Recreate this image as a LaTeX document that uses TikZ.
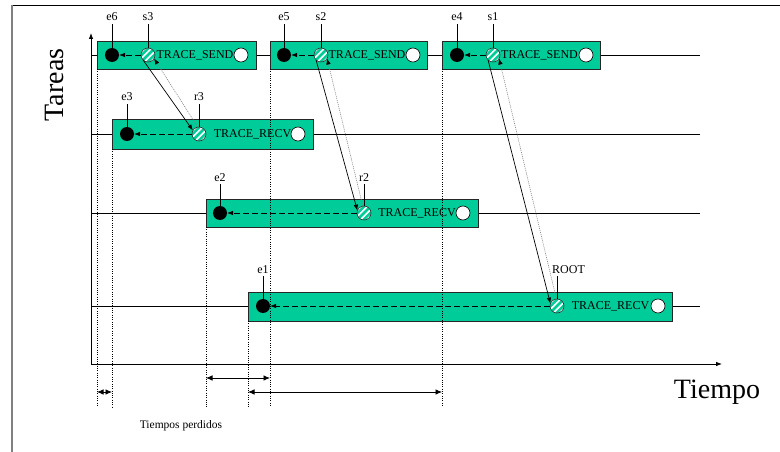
\documentclass[tikz,border=0pt]{standalone}
\usepackage{fontspec}
\setmainfont{Liberation Serif}
\usetikzlibrary{arrows.meta,shadows,calc}
\definecolor{lanegreen}{RGB}{0,204,153}
\begin{document}
\begin{tikzpicture}[x=1pt,y=-1pt,
  >={Latex[length=6pt,width=4.5pt]},
  lane/.style={draw=black!85, line width=0.7pt, fill=lanegreen, inner sep=0, outer sep=0,
    drop shadow={shadow xshift=1.2pt, shadow yshift=-1.2pt, fill=black!55, opacity=1}},
  evtdot/.style={circle, fill=black, minimum size=14pt, inner sep=0, outer sep=0},
  idledot/.style={circle, draw=black, line width=0.6pt, fill=white, minimum size=14pt, inner sep=0, outer sep=0},
  hatchdot/.style={circle, draw=black!80, line width=0.6pt, fill=white, minimum size=14pt, inner sep=0, outer sep=0,
    path picture={\foreach \k in {-2,...,2}{\draw[lanegreen, line width=2.6pt]
      ([xshift={\k*6.4pt-12pt}, yshift=-12pt]path picture bounding box.center) -- ++(24pt,24pt);}}},
  tag/.style={font=\fontsize{12}{12}\selectfont, inner sep=0, anchor=base},
  calltext/.style={font=\fontsize{12}{12}\selectfont, inner sep=0},
  rowline/.style={line width=0.8pt},
  tick/.style={line width=0.8pt},
  guide/.style={line width=0.8pt, dash pattern=on 1pt off 1.3pt},
  waitarrow/.style={->, line width=0.8pt, dash pattern=on 6pt off 3pt},
  msg/.style={->, line width=0.7pt},
  reply/.style={-{Latex[length=6pt,width=4.5pt,black]}, gray, line width=0.6pt, dash pattern=on 1pt off 1pt},
  span/.style={{Latex[length=6.5pt,width=5.5pt]}-{Latex[length=6.5pt,width=5.5pt]}, line width=0.8pt}
]
\useasboundingbox (0,0) rectangle (780,452);

% frame edges
\draw[line width=0.9pt] (12,5) -- (780,5);
\draw[gray, line width=1.5pt] (12,5) -- (12,452);

% axes
\coordinate (O) at (91,364);
\coordinate (ytop) at (91,33);
\coordinate (xend) at (722,364);
\draw[->, line width=0.8pt] (O) -- (ytop);
\draw[->, line width=0.8pt] (O) -- (xend);
\node[font=\fontsize{28}{28}\selectfont, rotate=90, anchor=base, inner sep=0] (tareas) at (63,85) {Tareas};
\node[font=\fontsize{28}{28}\selectfont, anchor=base, inner sep=0] (tiempo) at (717,398) {Tiempo};

% task lines
\foreach \r/\y in {1/55, 2/134, 3/213, 4/306}{
  \coordinate (la\r) at (91,\y);
  \coordinate (lb\r) at (700,\y);
  \draw[rowline] (la\r) -- (lb\r);
}

% execution boxes
\node[lane, minimum width=159pt, minimum height=28pt] (bA) at (176.5,55) {};
\node[lane, minimum width=157pt, minimum height=28pt] (bB) at (348.5,55) {};
\node[lane, minimum width=158pt, minimum height=28pt] (bC) at (521,55) {};
\node[lane, minimum width=201pt, minimum height=30pt] (b2) at (212.5,134) {};
\node[lane, minimum width=272pt, minimum height=28pt] (b3) at (342,213) {};
\node[lane, minimum width=424pt, minimum height=29pt] (b4) at (460,306.5) {};

% call names
\node[calltext] (tA) at (195,55) {TRACE\_SEND};
\node[calltext] (tB) at (367,55) {TRACE\_SEND};
\node[calltext] (tC) at (539.5,55) {TRACE\_SEND};
\node[calltext] (t2) at (252.5,134) {TRACE\_RECV};
\node[calltext] (t3) at (417,213) {TRACE\_RECV};
\node[calltext] (t4) at (610.5,306) {TRACE\_RECV};

% time guides
\coordinate (gend) at (0,407);
\coordinate (dimA) at (0,378);
\coordinate (dimB) at (0,392);
\foreach \b in {bA,b2,b3,b4,bB,bC}{
  \draw[guide] (\b.south west) -- (\b.south west |- gend);
}

% events
\node[evtdot] (e6) at (112,55) {};
\node[hatchdot] (s3) at (148,55) {};
\node[idledot] (w1) at (241,55) {};
\node[evtdot] (e5) at (284,55) {};
\node[hatchdot] (s2) at (321,55) {};
\node[idledot] (w2) at (413,55) {};
\node[evtdot] (e4) at (457,55) {};
\node[hatchdot] (s1) at (493,55) {};
\node[idledot] (w3) at (586,55) {};
\node[evtdot] (e3) at (127,134) {};
\node[hatchdot] (r3) at (199,134) {};
\node[idledot] (w4) at (298,134) {};
\node[evtdot] (e2) at (220,213) {};
\node[hatchdot] (r2) at (364,213) {};
\node[idledot] (w5) at (463,213) {};
\node[evtdot] (e1) at (263,306) {};
\node[hatchdot] (root) at (557,306) {};
\node[idledot] (w6) at (658,306) {};

% event names and ticks
\foreach \n/\t/\x/\y in {e6/e6/112/21, s3/s3/148/21, e5/e5/284/21, s2/s2/321/21,
                         e4/e4/457/21, s1/s1/493/21, e3/e3/127/101, r3/r3/199/101,
                         e2/e2/220/181, r2/r2/364/181, e1/e1/263/273}{
  \node[tag] (l\n) at (\x,\y) {\t};
  \draw[tick] (l\n.south) ++(0,3) -- (\n.north);
}
\node[tag, anchor=base west] (lroot) at (552,273) {ROOT};
\draw[tick] (lroot.south -| root) ++(0,3) -- (root.north);

% waiting inside each call
\draw[waitarrow] (s3) -- (e6);
\draw[waitarrow] (s2) -- (e5);
\draw[waitarrow] (s1) -- (e4);
\draw[waitarrow] (r3) -- (e3);
\draw[waitarrow] (r2) -- (e2);
\draw[waitarrow] (root) -- (e1);

% messages and acknowledgements
\draw[msg] (s3.225) -- (r3.150);
\draw[reply] (r3.100) -- (s3.-30);
\draw[msg] (s2.225) -- (r2.160);
\draw[reply] (r2.100) -- (s2.-30);
\draw[msg] (s1.225) -- (root.160);
\draw[reply] (root.95) -- (s1.-30);

% lost time intervals
\draw[span] (bA.south west |- dimB) -- (b2.south west |- dimB);
\draw[span] (b3.south west |- dimA) -- (bB.south west |- dimA);
\draw[span] (b4.south west |- dimB) -- (bC.south west |- dimB);
\node[font=\fontsize{11.5}{11.5}\selectfont, inner sep=0] (lost) at (181,426) {Tiempos perdidos};
\end{tikzpicture}
\end{document}
